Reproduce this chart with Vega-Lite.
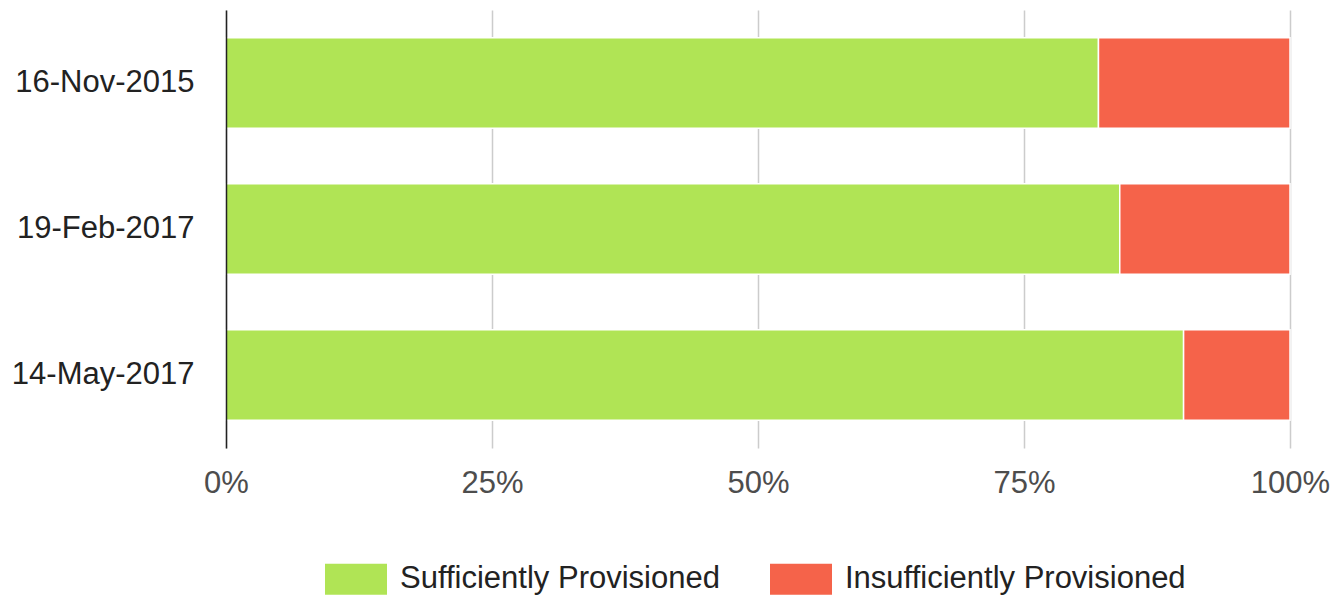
{
  "$schema": "https://vega.github.io/schema/vega-lite/v6.json",
  "width": 1064,
  "height": 438,
  "autosize": {"type": "none"},
  "padding": {"left": 226, "top": 10, "right": 43, "bottom": 147},
  "background": "white",
  "config": {
    "view": {"stroke": null},
    "font": "Liberation Sans"
  },
  "data": {
    "values": [
      {"date": "16-Nov-2015", "status": "Sufficiently Provisioned", "ord": 1, "pct": 82},
      {"date": "16-Nov-2015", "status": "Insufficiently Provisioned", "ord": 2, "pct": 18},
      {"date": "19-Feb-2017", "status": "Sufficiently Provisioned", "ord": 1, "pct": 84},
      {"date": "19-Feb-2017", "status": "Insufficiently Provisioned", "ord": 2, "pct": 16},
      {"date": "14-May-2017", "status": "Sufficiently Provisioned", "ord": 1, "pct": 90},
      {"date": "14-May-2017", "status": "Insufficiently Provisioned", "ord": 2, "pct": 10}
    ]
  },
  "mark": {"type": "bar", "stroke": "white", "strokeWidth": 1.5},
  "encoding": {
    "y": {
      "field": "date",
      "type": "nominal",
      "sort": ["16-Nov-2015", "19-Feb-2017", "14-May-2017"],
      "scale": {"paddingInner": 0.38, "paddingOuter": 0.19},
      "axis": {
        "title": null,
        "ticks": false,
        "domain": true,
        "domainColor": "#222222",
        "domainWidth": 1.5,
        "labelFontSize": 31,
        "labelColor": "#222222",
        "labelPadding": 32,
        "labelLimit": 0,
        "grid": false,
        "zindex": 1
      }
    },
    "x": {
      "field": "pct",
      "type": "quantitative",
      "stack": "normalize",
      "scale": {"domain": [0, 1], "nice": false},
      "axis": {
        "title": null,
        "format": "%",
        "values": [0, 0.25, 0.5, 0.75, 1],
        "domain": false,
        "ticks": false,
        "grid": true,
        "gridColor": "#cccccc",
        "gridWidth": 1.5,
        "labelFontSize": 31,
        "labelColor": "#4d4d4d",
        "labelPadding": 20,
        "labelFlush": false,
        "zindex": 0
      }
    },
    "color": {
      "field": "status",
      "type": "nominal",
      "scale": {
        "domain": ["Sufficiently Provisioned", "Insufficiently Provisioned"],
        "range": ["#b0e455", "#f5634a"]
      },
      "legend": {
        "title": null,
        "orient": "none",
        "legendX": 99,
        "legendY": 538,
        "direction": "horizontal",
        "symbolType": "M-1,-0.5H1V0.5H-1Z",
        "symbolSize": 3844,
        "symbolStrokeWidth": 0,
        "labelFontSize": 31,
        "labelColor": "#222222",
        "labelOffset": 13,
        "labelLimit": 0,
        "columnPadding": 50
      }
    },
    "order": {"field": "ord", "type": "quantitative"}
  }
}
